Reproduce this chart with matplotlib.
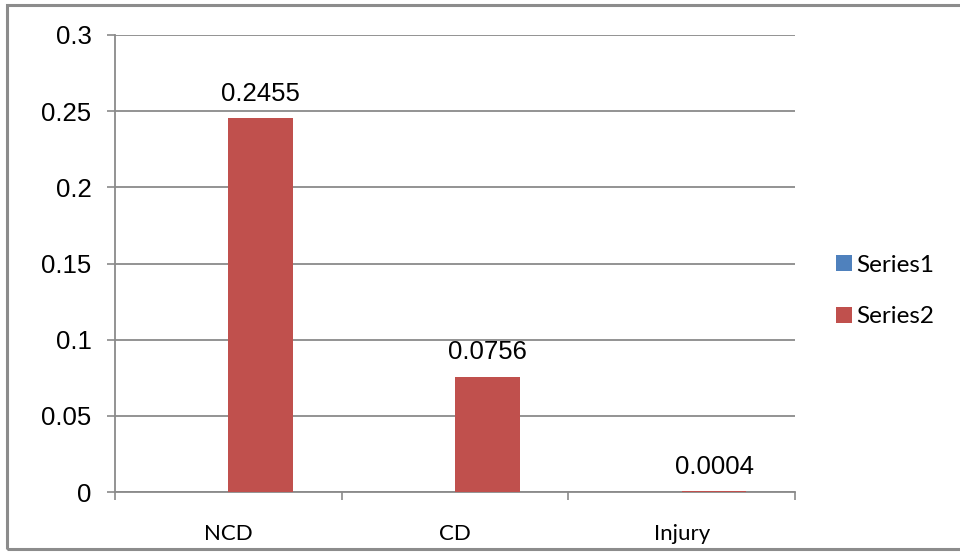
import matplotlib
matplotlib.use("Agg")
import matplotlib.pyplot as plt
import numpy as np
from matplotlib.patches import Rectangle

categories = ["NCD", "CD", "Injury"]
series1 = [0.0, 0.0, 0.0]
series2 = [0.2455, 0.0756, 0.0004]
series2_labels = ["0.2455", "0.0756", "0.0004"]
yticks = [0, 0.05, 0.1, 0.15, 0.2, 0.25, 0.3]
ytick_labels = ["0", "0.05", "0.1", "0.15", "0.2", "0.25", "0.3"]

W, H = 960, 552
fig = plt.figure(figsize=(W / 100, H / 100), dpi=100)
fig.patch.set_facecolor("white")

# outer chart border
fig.patches.append(Rectangle((7 / W, 3 / H), (W + 10) / W, (H - 8) / H,
                             transform=fig.transFigure, fill=False,
                             edgecolor="#8c8c8c", linewidth=2.2, zorder=0))

ax = fig.add_axes([115 / W, 60 / H, (795 - 115) / W, (492 - 35) / H])
grid_c = "#8a8a8a"

x = np.arange(len(categories))
w = 1 / 3.5
ax.bar(x - w / 2, series1, width=w, color="#4f81bd", label="Series1", zorder=3)
ax.bar(x + w / 2, series2, width=w, color="#c0504d", label="Series2", zorder=3)

for xi, v, lab in zip(x, series2, series2_labels):
    ax.annotate(lab, (xi + w / 2, v), xytext=(0, 12.5), textcoords="offset points",
                ha="center", va="baseline", fontsize=18.5, family="Liberation Sans",
                color="#000000")

ax.set_xlim(-0.5, 2.5)
ax.set_ylim(0, 0.3)
ax.set_yticks(yticks)
ax.set_yticklabels(ytick_labels, family="Liberation Sans", fontsize=18.5)
ax.yaxis.grid(True, color=grid_c, linewidth=1.3, zorder=0)
ax.set_axisbelow(True)

ax.set_xticks([-0.5, 0.5, 1.5, 2.5])
ax.set_xticklabels([])
ax.set_xticks(x, minor=True)
ax.set_xticklabels(categories, minor=True, family="Lato", fontsize=16)
ax.tick_params(axis="x", which="major", length=6, width=1.2, color=grid_c, direction="out")
ax.tick_params(axis="x", which="minor", length=0, pad=23)
ax.tick_params(axis="y", length=6, width=1.2, color=grid_c, direction="out", pad=11)

for s in ["top", "right"]:
    ax.spines[s].set_visible(False)
for s in ["left", "bottom"]:
    ax.spines[s].set_color(grid_c)
    ax.spines[s].set_linewidth(1.3)

leg = ax.legend(loc="center left", bbox_to_anchor=(826 / W, (H - 291) / H),
                bbox_transform=fig.transFigure, frameon=False,
                prop={"family": "Lato", "size": 17.5}, handlelength=0.65,
                handleheight=0.65, handletextpad=0.2, labelspacing=1.25,
                borderaxespad=0)

fig.savefig("out.png", dpi=100, facecolor="white")
